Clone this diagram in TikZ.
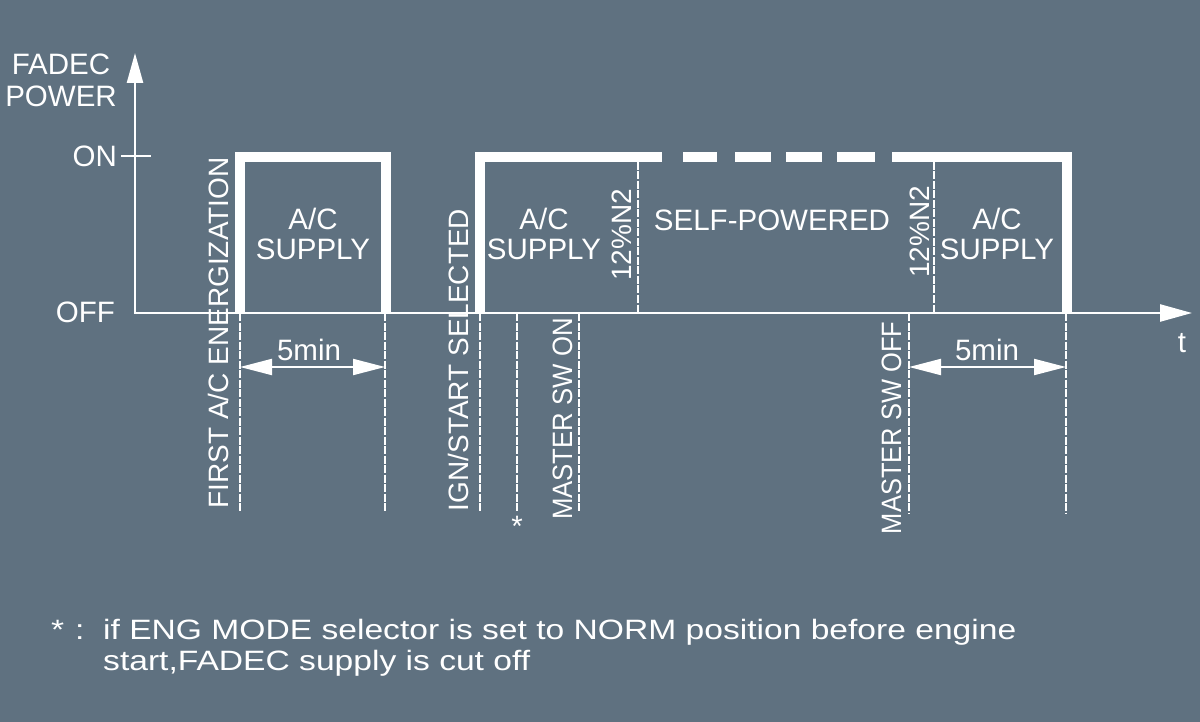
\documentclass[tikz,border=0pt]{standalone}
\usepackage{fontspec}
\setmainfont{Liberation Sans}
\usetikzlibrary{arrows.meta}
\definecolor{bg}{RGB}{95,113,128}
\begin{document}
\begin{tikzpicture}[x=1pt,y=-1pt,
  lbl/.style={text=white,font=\fontsize{29.5}{31}\selectfont,inner sep=0pt},
  vlbl/.style={text=white,font=\fontsize{28}{30}\selectfont,inner sep=0pt,rotate=90,anchor=base},
  note/.style={text=white,font=\fontsize{28}{30}\selectfont,inner sep=0pt,anchor=base west},
  pulse/.style={white,line width=10pt,line join=miter},
  guide/.style={white,line width=1.8pt,dash pattern=on 8pt off 1.5pt},
  axis/.style={white,line width=2.5pt},
  dim/.style={white,line width=2pt,{Triangle[length=32pt,width=16pt]}-{Triangle[length=32pt,width=16pt]}}]
\fill[bg] (0,0) rectangle (1200,722);
\useasboundingbox (0,0) rectangle (1200,722);

% key coordinates
\coordinate (o) at (135,313);
\coordinate (ytip) at (135,53);
\coordinate (xtip) at (1192,313);

% axes
\draw[axis,{Triangle[length=30pt,width=16pt]}-{Triangle[length=32pt,width=17pt]}] (ytip) -- (o) -- (xtip);
\draw[white,line width=1.5pt] (121,156) -- (151,156);

% axis labels
\node[lbl,anchor=base] (fadec) at (61,75) {FADEC};
\node[lbl,anchor=base] (power) at (61,107) {POWER};
\node[lbl,anchor=base east] (on) at (117,167) {ON};
\node[lbl,anchor=base east] (off) at (115,323) {OFF};
\node[lbl,anchor=base] (t) at (1182,352) {t};

% guide lines (below axis)
\coordinate (g1t) at (240,313); \coordinate (g1b) at (240,512);
\coordinate (g2t) at (385,313); \coordinate (g2b) at (385,512);
\coordinate (g3t) at (480,313); \coordinate (g3b) at (480,512);
\coordinate (g4t) at (517,313); \coordinate (g4b) at (517,512);
\coordinate (g5t) at (579,313); \coordinate (g5b) at (579,512);
\coordinate (g6t) at (909,313); \coordinate (g6b) at (909,513);
\coordinate (g7t) at (1066,313); \coordinate (g7b) at (1066,513);
\foreach \g in {1,...,7} {\draw[guide] (g\g t) -- (g\g b);}
% 12%N2 guides
\coordinate (n1t) at (638,162); \coordinate (n1b) at (638,313);
\coordinate (n2t) at (934,162); \coordinate (n2b) at (934,313);
\draw[guide] (n1t) -- (n1b);
\draw[guide] (n2t) -- (n2b);

% pulses
\draw[pulse] (240,313) -- (240,157) -- (386,157) -- (386,313);
\draw[pulse] (480,313) -- (480,157) -- (662,157);
\draw[pulse] (683,157) -- (717,157);
\draw[pulse] (735,157) -- (771,157);
\draw[pulse] (786,157) -- (822,157);
\draw[pulse] (837,157) -- (875,157);
\draw[pulse] (892,157) -- (1067,157) -- (1067,313);

% dimension arrows
\coordinate (d1a) at (240,367); \coordinate (d1b) at (385,367);
\coordinate (d2a) at (909,367); \coordinate (d2b) at (1066,367);
\draw[dim] (d1a) -- (d1b);
\draw[dim] (d2a) -- (d2b);
\node[lbl,anchor=base] (five1) at (309,360) {5min};
\node[lbl,anchor=base] (five2) at (987,360) {5min};

% box labels
\node[lbl,anchor=base] (ac1) at (313,230) {A/C};
\node[lbl,anchor=base] (sup1) at (313,260) {SUPPLY};
\node[lbl,anchor=base] (ac2) at (544,230) {A/C};
\node[lbl,anchor=base] (sup2) at (544,260) {SUPPLY};
\node[lbl,anchor=base] (ac3) at (997,230) {A/C};
\node[lbl,anchor=base] (sup3) at (997,260) {SUPPLY};
\node[lbl,anchor=base] (self) at (772,231) {SELF-POWERED};

% vertical labels
\node[vlbl] (first) at (228,333) {FIRST A/C ENERGIZATION};
\node[vlbl] (ign) at (468,360) {IGN/START SELECTED};
\node[vlbl] (mon) at (572,419) {\scalebox{0.92}[1]{MASTER SW ON}};
\node[vlbl] (moff) at (901,428) {\scalebox{0.91}[1]{MASTER SW OFF}};
\node[vlbl] (n2a) at (631,235) {12\%N2};
\node[vlbl] (n2b) at (929,232) {12\%N2};
\node[lbl,anchor=base] (star) at (517,536) {*};

% footnote
\node[note] (fstar) at (51,639) {\scalebox{1.2}[1]{*}};
\node[note] (fcolon) at (75,639) {\scalebox{1.2}[1]{:}};
\node[note] (f1) at (103,639) {\scalebox{1.2}[1]{if ENG MODE selector is set to NORM position before engine}};
\node[note] (f2) at (103,670) {\scalebox{1.2}[1]{start,FADEC supply is cut off}};
\end{tikzpicture}
\end{document}
